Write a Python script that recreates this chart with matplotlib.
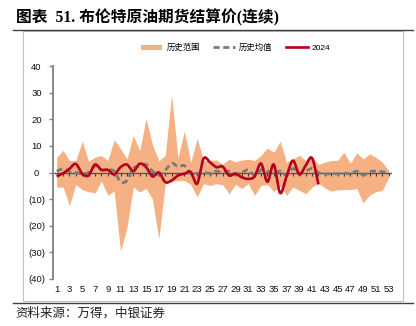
import numpy as np
import matplotlib
matplotlib.use("Agg")
import matplotlib.pyplot as plt
from matplotlib.patches import Patch, Rectangle
from matplotlib.lines import Line2D

# weekly data (week number 1..53)
weeks = np.arange(1, 54)
hist_max = [5.75, 8.3, 4.5, 4.5, 11.75, 4.2, 5.8, 6.4, 4.5, 12.3, 9.0, 5.1, 13.9, 8.2,
            20.2, 10.5, 4.4, 6.4, 29.2, 5.5, 15.6, 3.8, 12.8, 4.5, 4.5, 4.7, 3.2, 5.0,
            4.0, 4.7, 5.0, 4.5, 6.4, 9.2, 7.6, 11.7, 3.9, 5.0, 6.5, 4.5, 6.0, 3.0, 3.9,
            4.5, 4.6, 7.6, 3.5, 7.4, 5.1, 7.0, 5.7, 3.9, 0.8]
hist_min = [-5.5, -5.5, -12.4, -4.5, -6.5, -7.2, -7.7, -3.2, -8.5, -7.0, -29.5, -20.8,
            -5.4, -7.3, -6.0, -10.0, -25.0, -4.3, -3.4, -3.0, -3.0, -4.5, -9.2, -4.2,
            -4.9, -4.2, -4.6, -8.0, -4.5, -6.0, -4.2, -8.6, -4.9, -4.5, -7.2, -5.2,
            -8.6, -5.5, -6.7, -8.0, -5.5, -4.0, -5.8, -7.0, -6.5, -6.4, -6.4, -6.0,
            -11.4, -8.5, -7.2, -6.7, -2.0]
hist_mean = [0.5, 1.4, 0.3, 0.0, -0.5, 0.0, 2.5, 1.0, 1.0, 0.5, -3.5, -3.0, 1.5, 2.5,
             3.0, 0.5, -1.0, 0.8, 3.5, 2.2, 2.6, -0.5, -0.3, 0.0, -0.3, 0.5, 0.0, 0.5,
             -0.5, 0.0, 1.0, -1.0, 1.0, 0.5, -0.5, 0.5, -1.0, 1.5, -0.5, 0.5, 1.5, 0.0,
             -0.5, -0.5, -0.5, -0.3, -0.5, 0.5, -1.0, 0.3, 0.5, 0.3, 0.0]
y2024 = [-1.5, -0.3, 1.4, 3.2, -0.5, -1.1, 3.0, 1.0, 1.0, -0.7, 2.0, 3.0, 0.5, 3.3,
         2.0, -1.5, 0.0, -3.6, -3.0, -1.1, -0.5, 0.2, -4.2, 5.2, 3.9, 2.0, 2.2, -1.1,
         -0.5, -1.8, -2.4, -1.5, 3.4, -3.5, 3.0, -7.7, -1.5, 4.5, -0.7, 2.6, 5.4, -4.5]

xtick_weeks = list(range(1, 54, 2))
ytick_values = [-40, -30, -20, -10, 0, 10, 20, 30, 40]
ytick_labels = ["(40)", "(30)", "(20)", "(10)", "0", "10", "20", "30", "40"]

title = "图表  51. 布伦特原油期货结算价(连续)"
source = "资料来源：万得，中银证券"
legend_labels = ["历史范围", "历史均值", "2024"]

c_band = "#F5B183"
c_mean = "#7A7A7A"
c_2024 = "#B5001E"


def smooth(x, y, n=12):
    # catmull-rom curve through the points, like excel's smoothed line
    x = np.asarray(x, float)
    y = np.asarray(y, float)
    px = np.concatenate([[2 * x[0] - x[1]], x, [2 * x[-1] - x[-2]]])
    py = np.concatenate([[2 * y[0] - y[1]], y, [2 * y[-1] - y[-2]]])
    t = np.linspace(0, 1, n, endpoint=False)
    xs, ys = [], []
    for i in range(1, len(px) - 2):
        for p, out in ((px, xs), (py, ys)):
            p0, p1, p2, p3 = p[i - 1], p[i], p[i + 1], p[i + 2]
            out.extend(0.5 * (2 * p1 + (-p0 + p2) * t
                              + (2 * p0 - 5 * p1 + 4 * p2 - p3) * t ** 2
                              + (-p0 + 3 * p1 - 3 * p2 + p3) * t ** 3))
    xs.append(x[-1])
    ys.append(y[-1])
    return np.array(xs), np.array(ys)


W, H = 416, 326
fig = plt.figure(figsize=(W / 100, H / 100), dpi=100)

# page decorations
fig.text(16 / W, 1 - 18 / H, title, fontsize=11.3, fontweight="bold",
         family=["Liberation Serif", "Noto Sans CJK SC"], va="center", ha="left")
fig.add_artist(Line2D([13 / W, 413 / W], [1 - 30 / H, 1 - 30 / H], color="#404040", lw=1))
fig.add_artist(Rectangle((23 / W, 1 - 300.5 / H), 380 / W, 269.5 / H, fill=False,
                         edgecolor="#BFBFBF", lw=0.8))
fig.add_artist(Line2D([13 / W, 413 / W], [1 - 303 / H, 1 - 303 / H], color="#404040", lw=1))
fig.text(15 / W, 1 - 313 / H, source, fontsize=9, family=["Noto Sans CJK SC"],
         style="italic", color="#222222", va="center", ha="left")

ax = fig.add_axes([53 / W, 1 - 279 / H, (392 - 53) / W, (279 - 66) / H])

ax.fill_between(weeks, hist_min, hist_max, color=c_band, lw=0, zorder=1)
ax.axhline(0, color="#595959", lw=1, zorder=2)
ax.plot(weeks, np.zeros(len(weeks)), ls="none", marker=3, ms=2.5, mew=0.8,
        color="#404040", zorder=2)
mx, my = smooth(weeks, hist_mean)
ax.plot(mx, my, color=c_mean, lw=2.0, ls=(0, (2.2, 1.3)), zorder=3)
rx, ry = smooth(weeks[:len(y2024)], y2024)
ax.plot(rx, ry, color=c_2024, lw=1.9, zorder=4, solid_capstyle="butt")

ax.set_xlim(0.42, 53.52)
ax.set_ylim(-40, 40)
for s in ("top", "right", "bottom"):
    ax.spines[s].set_visible(False)
ax.spines["left"].set_color("#808080")
ax.spines["left"].set_linewidth(1.3)

tick_font = {"family": ["Liberation Sans Narrow", "Liberation Sans"], "size": 6.8}
ax.set_xticks(xtick_weeks)
ax.set_xticklabels([str(w) for w in xtick_weeks], fontdict=tick_font)
ax.tick_params(axis="x", length=0, pad=4.5, colors="#111111")
ax.set_yticks(ytick_values)
ax.set_yticklabels(ytick_labels, fontdict=tick_font, ha="center")
ax.tick_params(axis="y", length=3, width=1, color="#808080", pad=8.9, labelcolor="#111111")

handles = [Patch(facecolor=c_band, edgecolor="none"),
           Line2D([], [], color=c_mean, lw=2.0, ls=(0, (2.2, 1.3))),
           Line2D([], [], color=c_2024, lw=1.9)]
fig.legend(handles, legend_labels, loc="center", bbox_to_anchor=(235.5 / W, 1 - 48 / H),
           ncol=3, frameon=False, prop={"family": ["Liberation Sans", "Noto Sans CJK SC"], "size": 6},
           handlelength=2.6, handleheight=0.6, handletextpad=0.5, columnspacing=1.6)

fig.savefig("out.png", dpi=100)
